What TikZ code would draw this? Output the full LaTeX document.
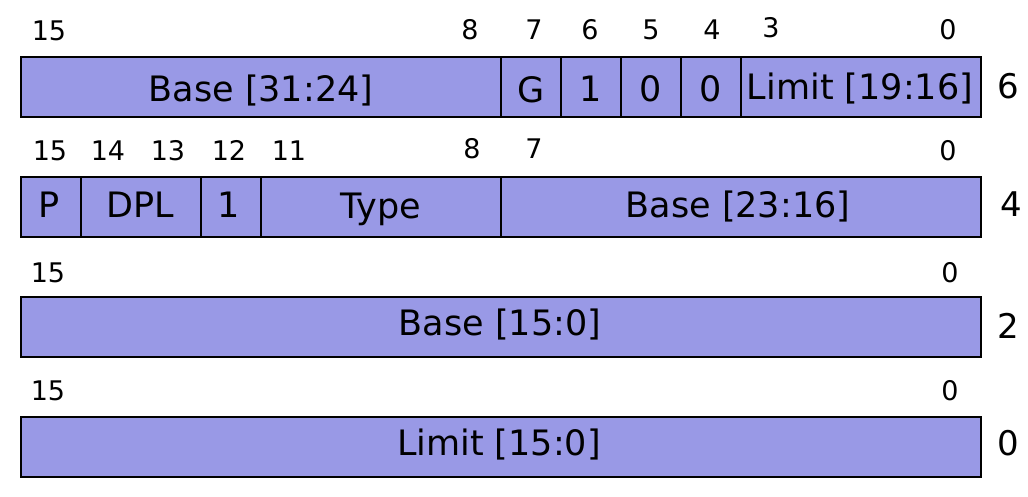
\documentclass[tikz,border=0pt]{standalone}
\usepackage{fontspec}
\setmainfont{DejaVu Sans}
\definecolor{fieldblue}{RGB}{153,153,230}
\begin{document}
\begin{tikzpicture}[x=1pt,y=-1pt,
  field/.style={draw=black,line width=2pt,fill=fieldblue,minimum height=60pt,
    inner sep=0pt,outer sep=0pt,anchor=north west},
  ftext/.style={font=\fontsize{35}{35}\selectfont,text height=25.5pt,text depth=0pt,inner sep=0pt},
  stext/.style={font=\fontsize{35}{35}\selectfont,text height=25.5pt,text depth=0pt,inner sep=0pt},
  bit/.style={font=\fontsize{27}{27}\selectfont,text height=19.7pt,text depth=0pt,inner sep=0pt},
  off/.style={font=\fontsize{34}{34}\selectfont,text height=24.8pt,text depth=0pt,inner sep=0pt}]
\useasboundingbox (0,0) rectangle (1028,497);
% Row 1 (offset 6)
\node[field,minimum width=480pt] (fBaseHi) at (21,57) {};
\node[field,minimum width=60pt] (fG) at (501,57) {};
\node[field,minimum width=60pt] (fDB) at (561,57) {};
\node[field,minimum width=60pt] (fL) at (621,57) {};
\node[field,minimum width=60pt] (fAVL) at (681,57) {};
\node[field,minimum width=240pt] (fLimHi) at (741,57) {};
\node[ftext] (tBaseHi) at (261,89) {Base [31:24]};
\node[stext] (tG) at (531,90) {G};
\node[stext] (tDB) at (591,89) {1};
\node[stext] (tL) at (651,89) {0};
\node[stext] (tAVL) at (711,89) {0};
\node[ftext] (tLimHi) at (860,87) {Limit [19:16]};
\node[bit] (b1a) at (49,31) {15};
\node[bit] (b1b) at (470,30) {8};
\node[bit] (b1c) at (534,30) {7};
\node[bit] (b1d) at (590,30) {6};
\node[bit] (b1e) at (651,30) {5};
\node[bit] (b1f) at (712,30) {4};
\node[bit] (b1g) at (771,28) {3};
\node[bit] (b1h) at (948,30) {0};
\node[off] (o6) at (1008,86) {6};
% Row 2 (offset 4)
\node[field,minimum width=60pt] (fP) at (21,177) {};
\node[field,minimum width=120pt] (fDPL) at (81,177) {};
\node[field,minimum width=60pt] (fS) at (201,177) {};
\node[field,minimum width=240pt] (fType) at (261,177) {};
\node[field,minimum width=480pt] (fBaseMid) at (501,177) {};
\node[stext] (tP) at (49,205) {P};
\node[stext] (tDPL) at (140,205) {DPL};
\node[stext] (tS) at (229,205) {1};
\node[stext] (tType) at (381,206) {Type};
\node[ftext] (tBaseMid) at (738,205) {Base [23:16]};
\node[bit] (b2a) at (50,151) {15};
\node[bit] (b2b) at (108,151) {14};
\node[bit] (b2c) at (168,151) {13};
\node[bit] (b2d) at (229,151) {12};
\node[bit] (b2e) at (289,151) {11};
\node[bit] (b2f) at (472,149) {8};
\node[bit] (b2g) at (534,149) {7};
\node[bit] (b2h) at (948,151) {0};
\node[off] (o4) at (1011,204) {4};
% Row 3 (offset 2)
\node[field,minimum width=960pt] (fBaseLo) at (21,297) {};
\node[ftext] (tBaseLo) at (500,323) {Base [15:0]};
\node[bit] (b3a) at (48,273) {15};
\node[bit] (b3b) at (950,273) {0};
\node[off] (o2) at (1008,326) {2};
% Row 4 (offset 0)
\node[field,minimum width=960pt] (fLimLo) at (21,417) {};
\node[ftext] (tLimLo) at (499,443) {Limit [15:0]};
\node[bit] (b4a) at (48,391) {15};
\node[bit] (b4b) at (950,391) {0};
\node[off] (o0) at (1008,443) {0};
\end{tikzpicture}
\end{document}
